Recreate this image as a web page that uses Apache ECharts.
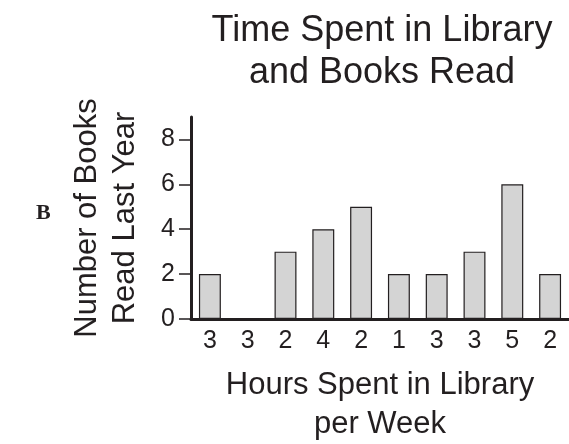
<!DOCTYPE html>
<html>
<head>
<meta charset="utf-8">
<script src="https://cdn.jsdelivr.net/npm/echarts@6/dist/echarts.min.js"></script>
<style>
  html, body { margin: 0; padding: 0; background: #fff; }
  #chart { width: 569px; height: 444px; }
</style>
</head>
<body>
<div id="chart"></div>
<script>
// hours per week for each student (x labels) and books read
const hours = ["3", "3", "2", "4", "2", "1", "3", "3", "5", "2"];
const books = [2, 0, 3, 4, 5, 2, 2, 3, 6, 2];
const yTicks = [0, 2, 4, 6, 8];

const ink = "#231f20";
const font = "Liberation Sans";

const chart = echarts.init(document.getElementById("chart"));
chart.setOption({
  animation: false,
  title: {
    text: "Time Spent in Library\nand Books Read",
    left: 377,
    top: 5,
    textAlign: "center",
    textStyle: {
      fontFamily: font,
      fontSize: 36,
      fontWeight: "normal",
      color: ink,
      lineHeight: 42,
    },
  },
  graphic: [
    {
      type: "text",
      left: 36,
      top: 202,
      style: {
        text: "B",
        fontFamily: "Liberation Serif",
        fontWeight: "bold",
        fontSize: 22,
        fill: ink,
      },
    },
  ],
  grid: {
    left: 191,
    right: 0,
    top: 117,
    bottom: 125,
    outerBoundsMode: "none",
  },
  xAxis: {
    type: "category",
    data: hours,
    name: "Hours Spent in Library\nper Week",
    nameLocation: "middle",
    nameGap: 47,
    nameTextStyle: {
      fontFamily: font,
      fontSize: 31,
      color: ink,
      lineHeight: 39,
    },
    axisLine: { lineStyle: { color: ink, width: 3 } },
    axisTick: { show: false },
    axisLabel: {
      fontFamily: font,
      fontSize: 25,
      color: ink,
      margin: 10,
    },
  },
  yAxis: {
    type: "value",
    min: 0,
    max: 9,
    interval: 2,
    name: "Number of Books\nRead Last Year",
    nameLocation: "middle",
    nameGap: 47,
    nameTextStyle: {
      fontFamily: font,
      fontSize: 31,
      color: ink,
      lineHeight: 38,
    },
    splitLine: { show: false },
    axisLine: { show: true, lineStyle: { color: ink, width: 3 } },
    axisTick: { show: true, length: 12, lineStyle: { color: ink, width: 1.5 } },
    axisLabel: {
      fontFamily: font,
      fontSize: 25,
      color: ink,
      margin: 16,
      showMaxLabel: false,
      formatter: (v) => (yTicks.includes(v) ? String(v) : ""),
    },
  },
  series: [
    {
      type: "bar",
      data: books,
      barWidth: "58%",
      itemStyle: {
        color: "#d4d4d4",
        borderColor: ink,
        borderWidth: 1.2,
      },
    },
  ],
});
</script>
</body>
</html>
